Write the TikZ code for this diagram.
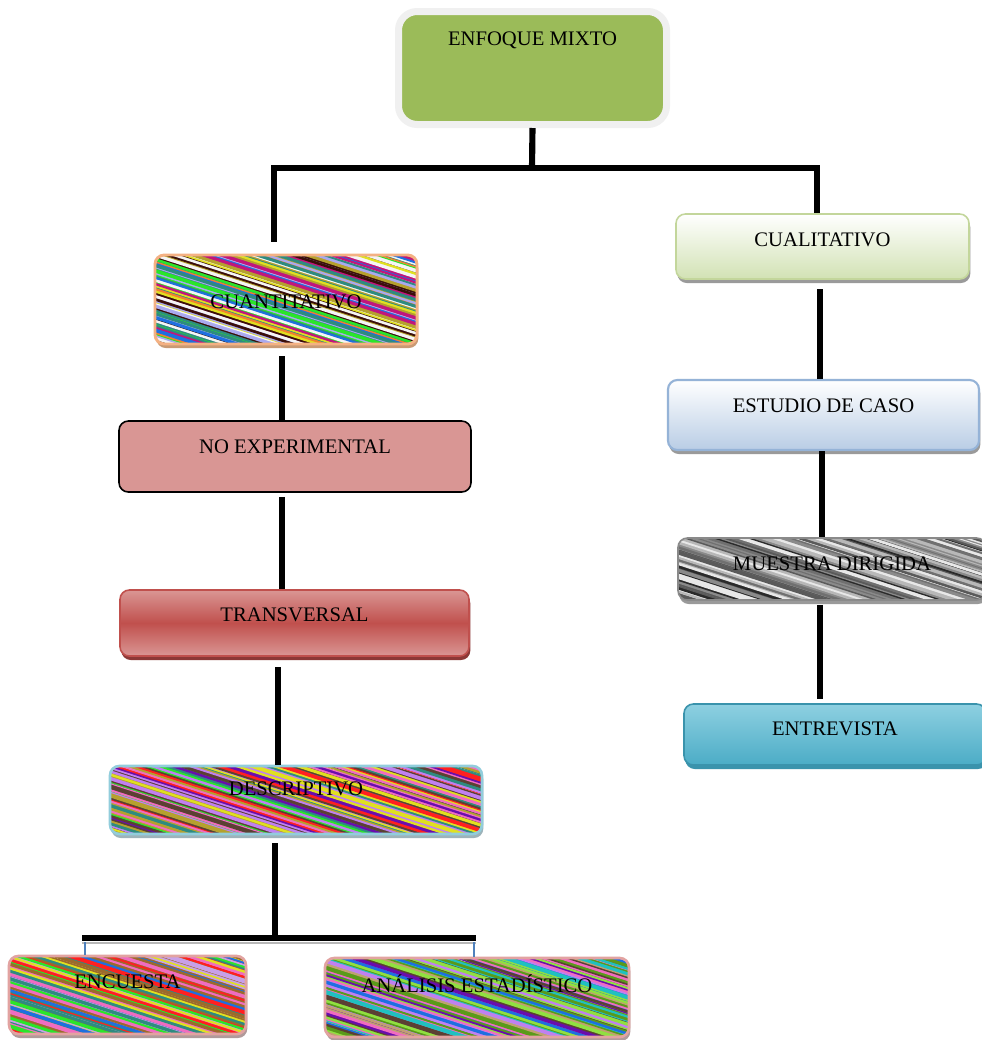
\documentclass[tikz,border=0pt]{standalone}
\usepackage{fontspec}
\setmainfont{Liberation Serif}
\usetikzlibrary{calc,fit,shadows}
\definecolor{mixG}{HTML}{9BBB59}
\definecolor{frameG}{HTML}{F0F0F0}
\definecolor{cuB}{HTML}{F4B183}
\definecolor{cuS}{HTML}{C99A74}
\definecolor{noF}{HTML}{D99694}
\definecolor{trL}{HTML}{DA9694}
\definecolor{trD}{HTML}{C0504D}
\definecolor{trS}{HTML}{8C3836}
\definecolor{deB}{HTML}{92CDDC}
\definecolor{deS}{HTML}{9DB3BA}
\definecolor{enB}{HTML}{E2A3A1}
\definecolor{enS}{HTML}{B09A9A}
\definecolor{cqB}{HTML}{C3D69B}
\definecolor{cqF}{HTML}{D2E2B4}
\definecolor{esB}{HTML}{95B3D7}
\definecolor{esF}{HTML}{B9CDE5}
\definecolor{enL}{HTML}{8ED0E1}
\definecolor{enD}{HTML}{4BACC6}
\definecolor{entB}{HTML}{3A93AC}
\definecolor{shG}{HTML}{9A9A9A}
\definecolor{tickB}{HTML}{4F81BD}
% stripe palettes
\definecolor{s1}{HTML}{3B0F0A}\definecolor{s2}{HTML}{2AE52A}\definecolor{s3}{HTML}{A9A9F0}
\definecolor{s4}{HTML}{1E6FE0}\definecolor{s5}{HTML}{C0167C}\definecolor{s6}{HTML}{B5A12E}
\definecolor{s7}{HTML}{2E8B80}\definecolor{s8}{HTML}{F5F5F5}\definecolor{s9}{HTML}{E0E020}
\definecolor{s10}{HTML}{F08030}\definecolor{s11}{HTML}{6A0DAD}\definecolor{s12}{HTML}{5B4033}
\definecolor{s13}{HTML}{F06CC0}\definecolor{s14}{HTML}{FF2020}\definecolor{s15}{HTML}{C080F0}
\definecolor{s16}{HTML}{9C6A2C}\definecolor{s17}{HTML}{C8A0E8}\definecolor{s18}{HTML}{5A9A1A}
\definecolor{s19}{HTML}{90E040}\definecolor{s20}{HTML}{20C0C0}\definecolor{s21}{HTML}{C0A070}
\definecolor{g1}{HTML}{2A2A2A}\definecolor{g2}{HTML}{5A5A5A}\definecolor{g3}{HTML}{8A8A8A}
\definecolor{g4}{HTML}{B8B8B8}\definecolor{g5}{HTML}{E8E8E8}\definecolor{g6}{HTML}{707070}
\pgfmathdeclarerandomlist{pA}{{s1}{s2}{s3}{s4}{s5}{s6}{s7}{s8}{s9}{s10}{s3}{s7}}
\pgfmathdeclarerandomlist{pB}{{s11}{s12}{s13}{s14}{s9}{s15}{s7}{s2}{s6}{s12}}
\pgfmathdeclarerandomlist{pC}{{s16}{s17}{s9}{s2}{s13}{s7}{s4}{s16}{s17}{s14}}
\pgfmathdeclarerandomlist{pD}{{s18}{s19}{s11}{s13}{s20}{s21}{s4}{s18}{s15}{s12}}
\pgfmathdeclarerandomlist{pE}{{g1}{g2}{g3}{g4}{g5}{g6}}
\tikzset{
  box/.style={rectangle, rounded corners=7pt, inner sep=0pt, line width=1.2pt},
  lbl/.style={font=\fontsize{15.5}{18}\selectfont, inner sep=0pt, anchor=center},
  conn/.style={line width=4.6pt, black},
  tick/.style={line width=0.9pt, tickB},
  shad/.style={drop shadow={shadow xshift=1pt, shadow yshift=-3pt, fill=#1, opacity=1}},
  stripes/.style={path picture={
    \foreach \x in {-520,-515,...,210}{
      \pgfmathrandomitem{\sc}{#1}
      \pgfmathsetmacro\lw{0.8+3.4*rnd}
      \draw[color=\sc, line width=\lw pt] (path picture bounding box.north) ++(\x,-8) -- ++(340,110);
    }}},
}
\begin{document}
\begin{tikzpicture}[x=0.75pt,y=-0.75pt]
\pgfmathsetseed{7}
\useasboundingbox (0,0) rectangle (982,1040);
\fill[white] (0,0) rectangle (982,1040);

% boxes
\node[box, fit={(398.5,11.5)(666.5,124.5)}, draw=frameG, line width=5.25pt, fill=mixG, rounded corners=14pt] (mixto) {};
\node[lbl] (mixtoT) at ($(mixto.north)+(0,32)$) {ENFOQUE MIXTO};

\node[box, fit={(155,255)(417,344)}, draw=cuB, line width=2.2pt, stripes=pA, shad=cuS] (cuanti) {};
\node[lbl] (cuantiT) at ($(cuanti.north)+(0,48)$) {CUANTITATIVO};

\node[box, fit={(119,421)(471,492)}, draw=black, fill=noF] (noexp) {};
\node[lbl] (noexpT) at ($(noexp.north)+(0,27)$) {NO EXPERIMENTAL};

\node[box, fit={(120,590)(469,656)}, draw=trD, top color=trL, bottom color=trL, middle color=trD, shad=trS] (transv) {};
\node[lbl] (transvT) at ($(transv.north)+(0,26)$) {TRANSVERSAL};

\node[box, fit={(110,766)(482,834)}, draw=deB, line width=2pt, stripes=pB, shad=deS] (descr) {};
\node[lbl] (descrT) at ($(descr.north)+(0,24)$) {DESCRIPTIVO};

\node[box, fit={(9,956)(246,1034)}, draw=enB, line width=2pt, stripes=pC, shad=enS] (encuesta) {};
\node[lbl] (encuestaT) at ($(encuesta.north)+(0,27)$) {ENCUESTA};

\node[box, fit={(325,958)(629,1037)}, draw=enB, line width=2pt, stripes=pD, shad=enS] (analisis) {};
\node[lbl] (analisisT) at ($(analisis.north)+(0,27)$) {ANÁLISIS ESTADÍSTICO};

\node[box, fit={(676,214)(969,279)}, draw=cqB, top color=white, bottom color=cqF, shad=shG] (cualit) {};
\node[lbl] (cualitT) at ($(cualit.north)+(0,27)$) {CUALITATIVO};

\node[box, fit={(668,380)(979,450)}, draw=esB, line width=1.6pt, top color=white, bottom color=esF, shad=shG] (estudio) {};
\node[lbl] (estudioT) at ($(estudio.north)+(0,27)$) {ESTUDIO DE CASO};

\node[box, fit={(678,538)(986,600)}, draw=g3, stripes=pE, shad=shG] (muestra) {};
\node[lbl] (muestraT) at ($(muestra.north)+(0,27)$) {MUESTRA DIRIGIDA};

\node[box, fit={(684,704)(986,765)}, draw=entB, top color=enL, bottom color=enD, shad=entB] (entrev) {};
\node[lbl] (entrevT) at ($(entrev.north)+(0,26)$) {ENTREVISTA};

% connector points
\coordinate (jT) at (532,168);
\coordinate (jL) at (274,168);
\coordinate (jR) at (817,168);
\coordinate (cA) at (282,0);
\coordinate (cB) at (278,0);
\coordinate (cC) at (275,0);
\coordinate (cD) at (820,0);
\coordinate (cE) at (822,0);
\coordinate (jB) at (275,938);
\coordinate (bL) at (82,938);
\coordinate (bR) at (476,938);
\coordinate (tL) at (85,942);
\coordinate (tR) at (474,942);

% connectors
\draw[conn] (mixto.south) -- (jT);
\draw[conn, shorten <=9pt] (jL |- cuanti.north) -- (jL) -- (jR) -- (jR |- cualit.north);
\draw[conn, shorten <=8pt] (cuanti.south -| cA) -- (noexp.north -| cA);
\draw[conn, shorten <=3pt] (noexp.south -| cA) -- (transv.north -| cA);
\draw[conn, shorten <=8pt] (transv.south -| cB) -- (descr.north -| cB);
\draw[conn, shorten <=6pt] (descr.south -| cC) -- (jB);
\draw[line width=1.6pt, g4] ([yshift=-3.6pt]bL) -- ([yshift=-3.6pt]bR);
\draw[conn] (bL) -- (bR);
\draw[tick] (tL) -- (tL |- encuesta.north);
\draw[tick] (tR) -- (tR |- analisis.north);
\draw[conn, shorten <=7pt] (cualit.south -| cD) -- (estudio.north -| cD);
\draw[conn] (estudio.south -| cE) -- (muestra.north -| cE);
\draw[conn, shorten <=3pt, shorten >=3pt] (muestra.south -| cD) -- (entrev.north -| cD);
\end{tikzpicture}
\end{document}
